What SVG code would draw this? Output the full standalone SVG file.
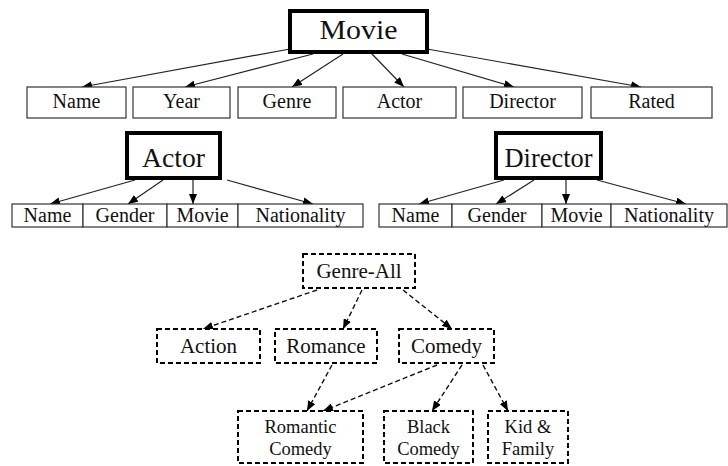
<svg xmlns="http://www.w3.org/2000/svg" width="728" height="466" viewBox="0 0 728 466">
<style>
text{font-family:"Liberation Serif","Times New Roman",serif;fill:#111;text-anchor:middle}
.t1{font-size:27px}
.t2{font-size:20px}
.t3{font-size:21px}
.t4{font-size:18.5px}
.thick{fill:#fff;stroke:#000;stroke-width:4}
.thin{fill:#fff;stroke:#333;stroke-width:1.2}
.dash{fill:#fff;stroke:#000;stroke-width:2;stroke-dasharray:5 3}
.ln{stroke:#222;stroke-width:1.2;fill:none;marker-end:url(#ah)}
.dl{stroke:#111;stroke-width:1.4;fill:none;stroke-dasharray:5 3;marker-end:url(#ah)}
</style>
<defs>
<marker id="ah" viewBox="0 0 10 8" refX="10" refY="4" markerWidth="10" markerHeight="8" markerUnits="userSpaceOnUse" orient="auto">
<path d="M0,0 L10,4 L0,8 Z" fill="#000"/>
</marker>
</defs>
<rect width="728" height="466" fill="#fff"/>
<g id="connectors">
<line class="ln" x1="290" y1="49" x2="82" y2="87"/>
<line class="ln" x1="313" y1="54" x2="185" y2="87"/>
<line class="ln" x1="343" y1="54" x2="292" y2="87"/>
<line class="ln" x1="372" y1="54" x2="404" y2="87"/>
<line class="ln" x1="402" y1="54" x2="514" y2="87"/>
<line class="ln" x1="427" y1="49" x2="641" y2="87"/>
<line class="ln" x1="135" y1="180" x2="50" y2="204"/>
<line class="ln" x1="163" y1="180" x2="128" y2="204"/>
<line class="ln" x1="193" y1="180" x2="193" y2="204"/>
<line class="ln" x1="227" y1="180" x2="313" y2="204"/>
<line class="ln" x1="504" y1="180" x2="419" y2="204"/>
<line class="ln" x1="534" y1="180" x2="496" y2="204"/>
<line class="ln" x1="566" y1="180" x2="566" y2="204"/>
<line class="ln" x1="597" y1="180" x2="686" y2="204"/>
<line class="dl" x1="317" y1="290" x2="203" y2="329"/>
<line class="dl" x1="362" y1="290" x2="343" y2="329"/>
<line class="dl" x1="403" y1="290" x2="452" y2="329"/>
<line class="dl" x1="332" y1="365" x2="307" y2="411"/>
<line class="dl" x1="437" y1="365" x2="323" y2="411"/>
<line class="dl" x1="462" y1="365" x2="432" y2="411"/>
<line class="dl" x1="483" y1="365" x2="508" y2="411"/>
</g>
<g id="movie"><rect class="thick" x="290" y="11" width="137" height="41"/><text class="t1" x="358.5" y="39" textLength="78" lengthAdjust="spacingAndGlyphs">Movie</text></g>
<g id="m-name"><rect class="thin" x="27" y="87" width="99" height="31"/><text class="t2" x="76.5" y="108">Name</text></g>
<g id="m-year"><rect class="thin" x="133" y="87" width="97" height="31"/><text class="t2" x="181.5" y="108">Year</text></g>
<g id="m-genre"><rect class="thin" x="238" y="87" width="98" height="31"/><text class="t2" x="287" y="108">Genre</text></g>
<g id="m-actor"><rect class="thin" x="343" y="87" width="113" height="31"/><text class="t2" x="399.5" y="108">Actor</text></g>
<g id="m-director"><rect class="thin" x="463" y="87" width="119" height="31"/><text class="t2" x="522.5" y="108">Director</text></g>
<g id="m-rated"><rect class="thin" x="591" y="87" width="121" height="31"/><text class="t2" x="651.5" y="108">Rated</text></g>

<g id="actor"><rect class="thick" x="127" y="133" width="93" height="45"/><text class="t1" x="173.5" y="167" textLength="63" lengthAdjust="spacingAndGlyphs">Actor</text></g>
<g id="a-name"><rect class="thin" x="12" y="204" width="71" height="23"/><text class="t2" x="47.5" y="222">Name</text></g>
<g id="a-gender"><rect class="thin" x="83" y="204" width="84" height="23"/><text class="t2" x="125" y="222">Gender</text></g>
<g id="a-movie"><rect class="thin" x="167" y="204" width="71" height="23"/><text class="t2" x="202.5" y="222">Movie</text></g>
<g id="a-nationality"><rect class="thin" x="238" y="204" width="125" height="23"/><text class="t2" x="300.5" y="222">Nationality</text></g>

<g id="director"><rect class="thick" x="496" y="133" width="105" height="45"/><text class="t1" x="548.5" y="167" textLength="88" lengthAdjust="spacingAndGlyphs">Director</text></g>
<g id="d-name"><rect class="thin" x="379" y="204" width="73" height="23"/><text class="t2" x="415.5" y="222">Name</text></g>
<g id="d-gender"><rect class="thin" x="452" y="204" width="90" height="23"/><text class="t2" x="497" y="222">Gender</text></g>
<g id="d-movie"><rect class="thin" x="542" y="204" width="69" height="23"/><text class="t2" x="576.5" y="222">Movie</text></g>
<g id="d-nationality"><rect class="thin" x="611" y="204" width="116" height="23"/><text class="t2" x="669" y="222">Nationality</text></g>

<g id="genre-all"><rect class="dash" x="303" y="254" width="112" height="34"/><text class="t3" x="359" y="278">Genre-All</text></g>
<g id="action"><rect class="dash" x="157" y="329" width="103" height="34"/><text class="t3" x="208.5" y="353">Action</text></g>
<g id="romance"><rect class="dash" x="275" y="329" width="102" height="34"/><text class="t3" x="326" y="353">Romance</text></g>
<g id="comedy"><rect class="dash" x="399" y="329" width="95" height="34"/><text class="t3" x="446.5" y="353">Comedy</text></g>
<g id="romantic-comedy"><rect class="dash" x="238" y="411" width="125" height="52"/><text class="t4" x="300.5" y="433">Romantic</text><text class="t4" x="300.5" y="455">Comedy</text></g>
<g id="black-comedy"><rect class="dash" x="384" y="411" width="89" height="52"/><text class="t4" x="428.5" y="433">Black</text><text class="t4" x="428.5" y="455">Comedy</text></g>
<g id="kid-family"><rect class="dash" x="488" y="411" width="80" height="52"/><text class="t4" x="528" y="433">Kid &amp;</text><text class="t4" x="528" y="455">Family</text></g>
</svg>
